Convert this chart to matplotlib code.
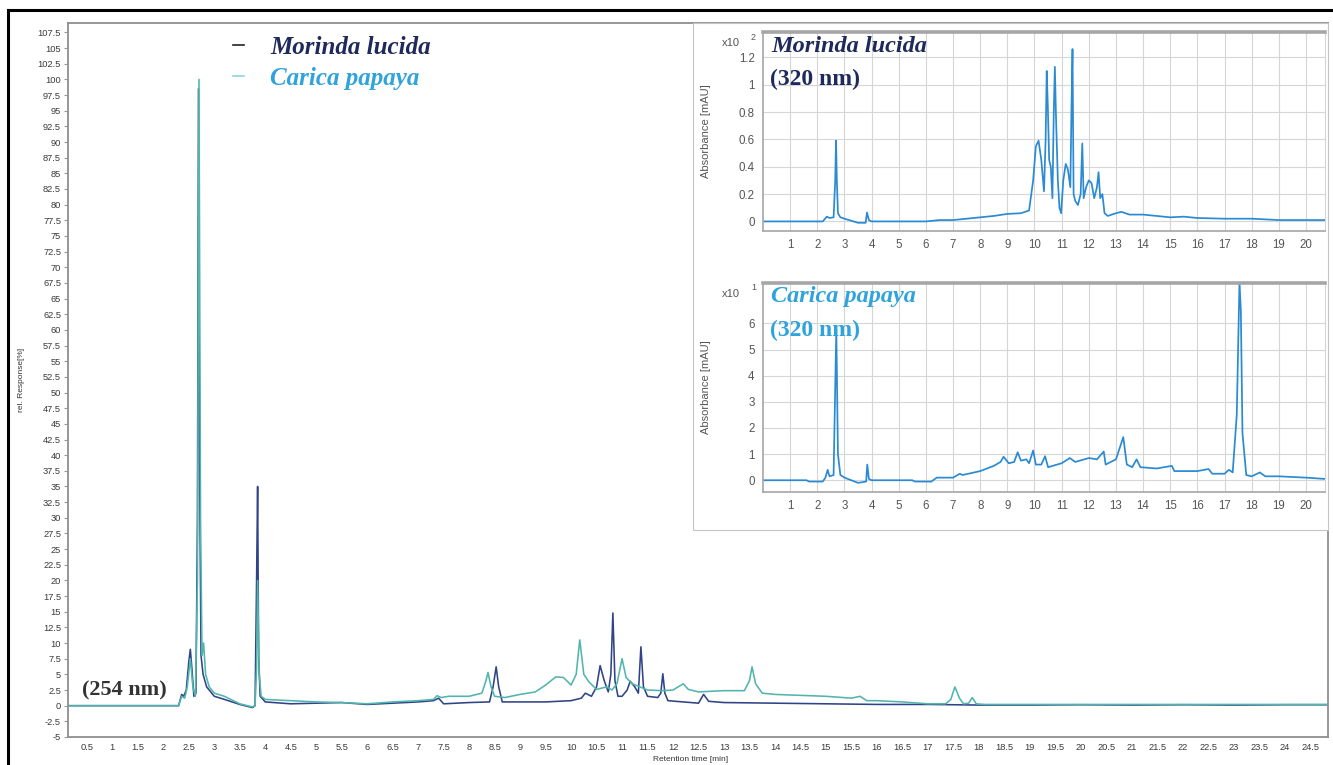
import numpy as np
import matplotlib
matplotlib.use("Agg")
import matplotlib.pyplot as plt
from matplotlib.lines import Line2D
from matplotlib.patches import Rectangle

plt.rcParams['font.family'] = ['Liberation Sans', 'DejaVu Sans']

#########################################################
# Data
#########################################################

# main panel, 254 nm, rel. response [%]
morinda_254 = [
    (0.13, 0), (2.30, 0), (2.36, 1.8), (2.40, 1.5), (2.45, 2.5), (2.50, 7), (2.53, 9),
    (2.56, 6), (2.60, 1.5), (2.64, 2), (2.67, 30), (2.69, 98.5), (2.71, 40), (2.74, 8),
    (2.78, 5), (2.85, 3), (3.0, 1.5), (3.2, 1.0), (3.5, 0.2), (3.75, -0.3), (3.80, 0),
    (3.83, 20), (3.85, 35), (3.87, 8), (3.90, 1.5), (4.0, 0.6), (4.5, 0.3), (5.0, 0.4),
    (5.5, 0.5), (6.0, 0.2), (6.5, 0.4), (7.0, 0.6), (7.3, 0.8), (7.4, 1.2), (7.5, 0.3),
    (8.0, 0.5), (8.4, 0.6), (8.47, 3), (8.53, 6.2), (8.58, 3), (8.65, 0.6), (9.0, 0.6),
    (9.5, 0.6), (10.0, 0.8), (10.2, 1.2), (10.28, 2.0), (10.4, 1.5), (10.5, 3),
    (10.57, 6.4), (10.65, 4), (10.73, 2.2), (10.78, 5), (10.82, 14.8), (10.86, 4),
    (10.92, 1.5), (11.0, 1.5), (11.1, 2.5), (11.16, 3.9), (11.25, 3), (11.32, 2),
    (11.37, 9.4), (11.42, 3), (11.5, 1.5), (11.7, 1.3), (11.76, 2), (11.8, 5.1),
    (11.84, 2), (11.9, 0.8), (12.2, 0.6), (12.5, 0.4), (12.6, 1.8), (12.7, 0.7),
    (13.0, 0.5), (14.0, 0.4), (15.0, 0.3), (16.0, 0.2), (17.0, 0.2), (18.0, 0.1),
    (19.0, 0.1), (20.0, 0.15), (21.0, 0.1), (22.0, 0.15), (23.0, 0.1), (24.0, 0.15),
    (24.85, 0.15),
]

carica_254 = [
    (0.13, 0), (2.30, 0), (2.36, 1.5), (2.42, 1.2), (2.47, 3), (2.53, 7.5), (2.58, 3),
    (2.63, 1.5), (2.67, 20), (2.70, 100), (2.73, 30), (2.76, 8), (2.79, 10), (2.83, 5),
    (2.9, 3), (3.0, 2), (3.2, 1.5), (3.5, 0.3), (3.75, -0.2), (3.80, 0), (3.83, 6),
    (3.85, 20), (3.88, 5), (3.92, 1.5), (4.0, 1.0), (4.5, 0.8), (5.0, 0.6), (5.5, 0.5),
    (6.0, 0.3), (6.5, 0.6), (7.0, 0.8), (7.3, 1.0), (7.37, 1.6), (7.45, 1.3), (7.6, 1.5),
    (8.0, 1.5), (8.25, 2), (8.33, 4), (8.37, 5.3), (8.43, 3), (8.5, 1.5), (8.7, 1.3),
    (9.0, 1.8), (9.3, 2.2), (9.5, 3.3), (9.7, 4.6), (9.85, 4.5), (10.0, 3.3), (10.1, 5),
    (10.17, 10.5), (10.25, 5), (10.35, 3.8), (10.5, 2.6), (10.7, 3), (10.8, 2.5),
    (10.9, 3.5), (11.0, 7.5), (11.08, 4.5), (11.2, 3.5), (11.5, 2.5), (11.8, 2.4),
    (12.0, 2.5), (12.2, 3.5), (12.3, 2.6), (12.5, 2.2), (13.0, 2.4), (13.4, 2.4),
    (13.5, 4), (13.55, 6.2), (13.62, 3.5), (13.75, 2), (14.0, 1.8), (15.0, 1.5),
    (15.5, 1.2), (15.67, 1.5), (15.8, 0.8), (16.0, 0.8), (16.5, 0.6), (17.0, 0.3),
    (17.35, 0.3), (17.45, 1), (17.53, 3.0), (17.62, 1.2), (17.7, 0.3), (17.8, 0.4),
    (17.87, 1.3), (17.95, 0.3), (18.1, 0.2), (19.0, 0.2), (20.0, 0.2), (21.0, 0.2),
    (22.0, 0.2), (23.0, 0.2), (24.0, 0.2), (24.85, 0.2),
]

# inset 1, Morinda lucida at 320 nm, absorbance x10^2 mAU
morinda_320 = [
    (0, 0), (2.2, 0), (2.35, 0.035), (2.45, 0.025), (2.6, 0.03), (2.66, 0.3),
    (2.69, 0.59), (2.72, 0.3), (2.76, 0.06), (2.85, 0.03), (3.0, 0.02), (3.5, -0.01),
    (3.78, -0.01), (3.83, 0.065), (3.9, 0.01), (4.0, 0.0), (5.0, 0.0), (6.0, 0.0),
    (6.5, 0.01), (7.0, 0.01), (7.5, 0.02), (8.0, 0.03), (8.5, 0.04), (9.0, 0.055),
    (9.5, 0.06), (9.8, 0.08), (9.95, 0.3), (10.05, 0.55), (10.15, 0.59), (10.25, 0.45),
    (10.35, 0.22), (10.41, 0.6), (10.45, 1.1), (10.49, 0.85), (10.54, 0.45),
    (10.6, 0.4), (10.66, 0.17), (10.71, 0.8), (10.75, 1.13), (10.79, 0.78),
    (10.86, 0.3), (10.92, 0.1), (10.98, 0.06), (11.06, 0.3), (11.15, 0.42),
    (11.23, 0.38), (11.32, 0.25), (11.36, 0.8), (11.4, 1.26), (11.44, 0.2),
    (11.5, 0.15), (11.6, 0.12), (11.7, 0.2), (11.76, 0.57), (11.81, 0.17),
    (11.9, 0.25), (12.0, 0.3), (12.1, 0.28), (12.2, 0.17), (12.3, 0.25),
    (12.36, 0.36), (12.42, 0.17), (12.5, 0.2), (12.58, 0.06), (12.7, 0.04),
    (13.0, 0.06), (13.2, 0.07), (13.5, 0.05), (14.0, 0.05), (15.0, 0.03),
    (15.5, 0.035), (16.0, 0.025), (17.0, 0.02), (18.0, 0.02), (19.0, 0.01),
    (20.7, 0.01),
]

# inset 2, Carica papaya at 320 nm, absorbance x10^1 mAU
carica_320 = [
    (0, 0), (1.6, 0), (1.7, -0.05), (2.2, -0.05), (2.3, 0.1), (2.38, 0.4), (2.45, 0.15),
    (2.6, 0.2), (2.7, 5.8), (2.76, 1.0), (2.85, 0.2), (3.0, 0.1), (3.5, -0.1),
    (3.8, -0.05), (3.84, 0.6), (3.9, 0.05), (4.0, 0.0), (5.5, 0.0), (5.6, -0.05),
    (6.2, -0.05), (6.4, 0.1), (7.0, 0.1), (7.25, 0.25), (7.35, 0.2), (8.0, 0.35),
    (8.5, 0.55), (8.75, 0.7), (8.86, 0.9), (9.05, 0.65), (9.25, 0.7), (9.38, 1.07),
    (9.5, 0.75), (9.7, 0.8), (9.8, 0.65), (9.95, 1.14), (10.05, 0.6), (10.25, 0.6),
    (10.39, 0.92), (10.5, 0.5), (11.0, 0.65), (11.3, 0.85), (11.5, 0.7), (12.0, 0.85),
    (12.3, 0.8), (12.55, 1.1), (12.62, 0.6), (13.0, 0.8), (13.27, 1.65), (13.4, 0.6),
    (13.6, 0.5), (13.76, 0.8), (13.9, 0.5), (14.5, 0.45), (15.06, 0.55), (15.15, 0.35),
    (16.0, 0.35), (16.41, 0.43), (16.55, 0.25), (17.0, 0.25), (17.16, 0.4), (17.3, 0.3),
    (17.45, 2.5), (17.55, 7.6), (17.6, 6.5), (17.66, 1.8), (17.8, 0.2), (18.0, 0.15),
    (18.3, 0.3), (18.5, 0.15), (19.0, 0.15), (20.0, 0.1), (20.7, 0.05),
]

main_xticks = np.arange(0.5, 24.51, 0.5)
main_yticks = np.arange(-5, 107.51, 2.5)
inset1_yticks = [0, 0.2, 0.4, 0.6, 0.8, 1.0, 1.2]
inset2_yticks = [0, 1, 2, 3, 4, 5, 6]
inset_xticks = list(range(1, 21))

NAVY = '#1f2a5c'
SKY = '#2ea3dc'
ML_LINE = '#2f4488'
CP_LINE = '#52b5ad'
INSET_LINE = '#2a8ad4'
SERIF = 'Liberation Serif'

#########################################################
# Figure
#########################################################

W, H = 1333, 765
fig = plt.figure(figsize=(W / 100, H / 100), dpi=100)


def box(x0, y0, x1, y1):
    # pixel box (top-left origin) -> figure fraction
    return [x0 / W, 1 - y1 / H, (x1 - x0) / W, (y1 - y0) / H]


ax = fig.add_axes(box(68, 23, 1328, 737))
ax.plot(*zip(*morinda_254), color=ML_LINE, lw=1.15, label='Morinda lucida')
ax.plot(*zip(*carica_254), color=CP_LINE, lw=1.15, label='Carica papaya')
ax.set_xlim(0.13, 24.85)
ax.set_ylim(-5, 109)
ax.set_xticks(main_xticks)
ax.set_xticklabels([f'{v:g}' for v in main_xticks])
ax.set_yticks(main_yticks)
ax.set_yticklabels([f'{v:g}' for v in main_yticks])
ax.tick_params(axis='both', labelsize=6.7, labelcolor='#3a3a3a', color='#9a9a9a')
ax.tick_params(axis='x', length=0, pad=4)
ax.tick_params(axis='y', length=3, width=0.8, pad=2)
for s in ax.spines.values():
    s.set_color('#8f8f8f')
    s.set_linewidth(1.3)
ax.set_ylabel('rel. Response[%]', fontsize=6, color='#333333')
ax.yaxis.set_label_coords(-0.034, 0.5)
ax.set_xlabel('Retention time [min]', fontsize=6, color='#333333')
ax.xaxis.set_label_coords(0.494, -0.026)

leg_handles = [Line2D([], [], color='#222222', lw=1.2), Line2D([], [], color='#8fd3e8', lw=1.2)]
leg = ax.legend(leg_handles, ['Morinda lucida', 'Carica papaya'], loc='upper left',
                bbox_to_anchor=(233 / W, 1 - 36 / H), bbox_transform=fig.transFigure,
                frameon=False, borderpad=0, borderaxespad=0, handlelength=0.45,
                handletextpad=1.05, labelspacing=0.3,
                prop={'family': SERIF, 'weight': 'bold', 'style': 'italic', 'size': 18})
leg.get_texts()[0].set_color(NAVY)
leg.get_texts()[1].set_color(SKY)

fig.text(82 / W, 1 - 690 / H, '(254 nm)', family=SERIF, weight='bold', fontsize=16,
         color='#333333', va='center', ha='left')

# white panel behind the two 320 nm insets
fig.add_artist(Rectangle((693 / W, 1 - 530 / H), (1328 - 693) / W, (530 - 23) / H,
                         transform=fig.transFigure, facecolor='white',
                         edgecolor='#c4c4c4', lw=0.8, zorder=1))


def inset(pos, data, ylim, yticks, power, name, color):
    a = fig.add_axes(box(*pos))
    a.set_zorder(3)
    a.plot(*zip(*data), color=INSET_LINE, lw=1.25)
    a.set_xlim(0, 20.7)
    a.set_ylim(*ylim)
    a.set_xticks(inset_xticks)
    a.set_yticks(yticks)
    a.set_yticklabels([f'{v:g}' for v in yticks])
    a.grid(True, color='#d6d6d6', lw=0.8)
    a.set_axisbelow(True)
    a.tick_params(labelsize=8.3, labelcolor='#555555', length=0, pad=6)
    for side, s in a.spines.items():
        s.set_color('#a6a6a6')
        s.set_linewidth(1.2)
    a.spines['top'].set_linewidth(2.6)
    a.spines['right'].set_color('#d6d6d6')
    a.spines['right'].set_linewidth(0.8)
    a.set_ylabel('Absorbance [mAU]', fontsize=8, color='#555555')
    a.yaxis.set_label_coords(-0.092, 0.5)
    top_px = pos[1]
    fig.text(722 / W, 1 - (top_px + 11) / H, 'x10', fontsize=8, color='#555555', va='center')
    fig.text(751 / W, 1 - (top_px + 5) / H, power, fontsize=6.5, color='#555555', va='center')
    fig.text(771 / W, 1 - (top_px + 14) / H, name, family=SERIF, weight='bold',
             style='italic', fontsize=17.5, color=color, va='center', zorder=5)
    fig.text(770 / W, 1 - (top_px + 47) / H, '(320 nm)', family=SERIF, weight='bold',
             fontsize=17, color=color, va='center', zorder=5)
    return a


inset((763, 32, 1325, 231), morinda_320, (-0.07, 1.385), inset1_yticks, '2',
      'Morinda lucida', NAVY)
inset((763, 283, 1325, 492), carica_320, (-0.45, 7.55), inset2_yticks, '1',
      'Carica papaya', SKY)

# black outer frame (left and top edges visible)
fig.add_artist(Line2D([8 / W, 8 / W], [0, 1 - 10 / H], transform=fig.transFigure,
                      color='black', lw=2.2))
fig.add_artist(Line2D([8 / W, 1], [1 - 10 / H, 1 - 10 / H], transform=fig.transFigure,
                      color='black', lw=2.2))

fig.savefig('out.png', dpi=100, facecolor='white')
